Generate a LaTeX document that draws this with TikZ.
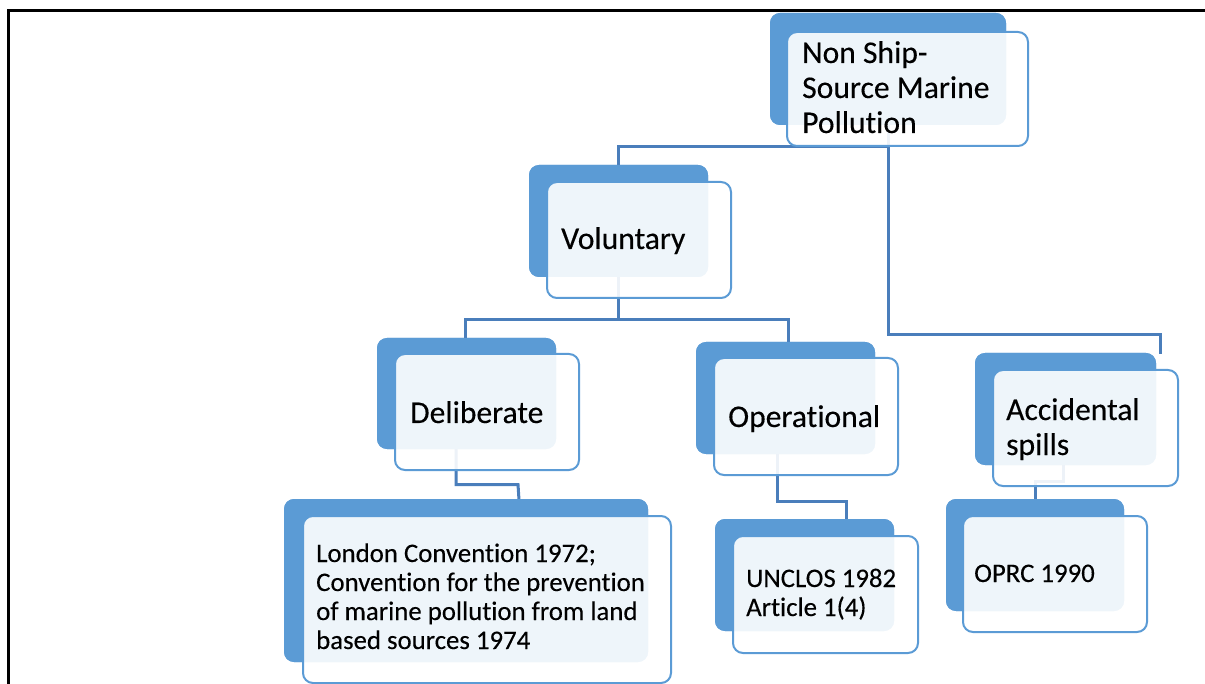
\documentclass[tikz,border=0pt]{standalone}
\usepackage{fontspec}
\setmainfont{Carlito}[Ligatures={NoCommon}, FakeBold=0.25]
\usetikzlibrary{calc}
\definecolor{boxblue}{HTML}{5B9BD5}
\definecolor{linkblue}{HTML}{4A7EBB}
\tikzset{
  backbox/.style={rectangle, rounded corners=10pt, fill=boxblue, draw=none,
    inner sep=0pt, outer sep=0pt, minimum width=179pt, minimum height=112pt},
  frontbox/.style={rectangle, rounded corners=10pt, fill=white, fill opacity=0.9,
    draw=boxblue, draw opacity=1, line width=2pt,
    inner sep=0pt, outer sep=0pt, minimum width=184pt, minimum height=116pt},
  link/.style={draw=linkblue, line width=3pt},
  % base anchor of a multi-line label sits on its last line
  lbl/.style={anchor=base west, inner sep=0pt, align=left, text=black,
    font=\fontsize{31.6}{35}\selectfont},
  lblsmall/.style={lbl, font=\fontsize{26.8}{29}\selectfont},
}
\begin{document}
\begin{tikzpicture}[x=1pt,y=-1pt]
\useasboundingbox (0,0) rectangle (1205,684);

% page frame (top and left rules)
\draw[black, line width=2.5pt] (1205,10.5) -- (8.5,10.5) -- (8.5,684);

% back plates (positions only, used as connector ends)
\path
  node[backbox, minimum width=236pt] (rootB) at (888,69) {}
  node[backbox] (volB) at (618.5,221) {}
  node[backbox, minimum height=111pt] (delB) at (466.5,393.5) {}
  node[backbox] (opB) at (785.5,398) {}
  node[backbox, minimum width=181pt] (accB) at (1065.5,409) {}
  node[backbox, minimum width=364pt, minimum height=163pt] (lonB) at (466,580.5) {}
  node[backbox] (uncB) at (804.5,575) {}
  node[backbox, minimum width=178pt] (oprcB) at (1035,555) {};

% elbow points of the connectors
\coordinate (j1) at (888,147);
\coordinate (j2) at (888,335);
\coordinate (accIn) at (1160,354);
\coordinate (j3) at (618.5,320);
\coordinate (delOut) at (456,449);
\coordinate (lonIn) at (519,500);
\coordinate (opOut) at (777,454);
\coordinate (uncIn) at (846,520);
\coordinate (accOut) at (1063,465);

% connectors, drawn beneath the boxes
\draw[link] (rootB.south) -- (j1) -| ($(volB.north)+(0,1)$);
\draw[link] (j1) -- (j2) -| (accIn);
\draw[link] (volB.south) -- (j3);
\draw[link] (j3) -| ($(delB.north)+(-1.5,1)$);
\draw[link] (j3) -| ($(opB.north)+(2.5,1)$);
\draw[link] (delOut) |- (518,484.5) -- (lonIn);
\draw[link] (opOut) |- (846,501) -- (uncIn);
\draw[link] (accOut) |- (1035,481.5) -- ($(oprcB.north)+(0,1)$);

% back plates drawn on top of the connectors
\foreach \b in {rootB,volB,delB,opB,accB,lonB,uncB,oprcB}
  \fill[boxblue, rounded corners=10pt] (\b.north west) rectangle (\b.south east);

% front cards
\node[frontbox, minimum width=241pt, minimum height=114pt] (root) at (907.5,89) {};
\node[frontbox] (vol) at (639,240) {};
\node[frontbox] (del) at (487,412) {};
\node[frontbox, minimum height=117pt] (op) at (806,416.5) {};
\node[frontbox, minimum width=185pt] (acc) at (1085.5,428) {};
\node[frontbox, minimum width=368pt, minimum height=167pt] (lon) at (487,599.5) {};
\node[frontbox, minimum width=185pt, minimum height=117pt] (unc) at (825.5,594.5) {};
\node[frontbox] (oprc) at (1055,574) {};

% labels
\node[lbl] (rootT) at (802,133) {Non Ship-\\Source Marine\\Pollution};
\node[lbl] (volT) at (561,249) {Voluntary};
\node[lbl] (delT) at (410,423) {Deliberate};
\node[lbl] (opT) at (728,427) {Operational};
\node[lbl] (accT) at (1006,455) {Accidental\\spills};
\node[lblsmall] (lonT) at (316,649) {London Convention 1972;\\Convention for the prevention\\of marine pollution from land\\based sources 1974};
\node[lblsmall] (uncT) at (746,616) {UNCLOS 1982\\Article 1(4)};
\node[lblsmall] (oprcT) at (974,582) {OPRC 1990};
\end{tikzpicture}
\end{document}
